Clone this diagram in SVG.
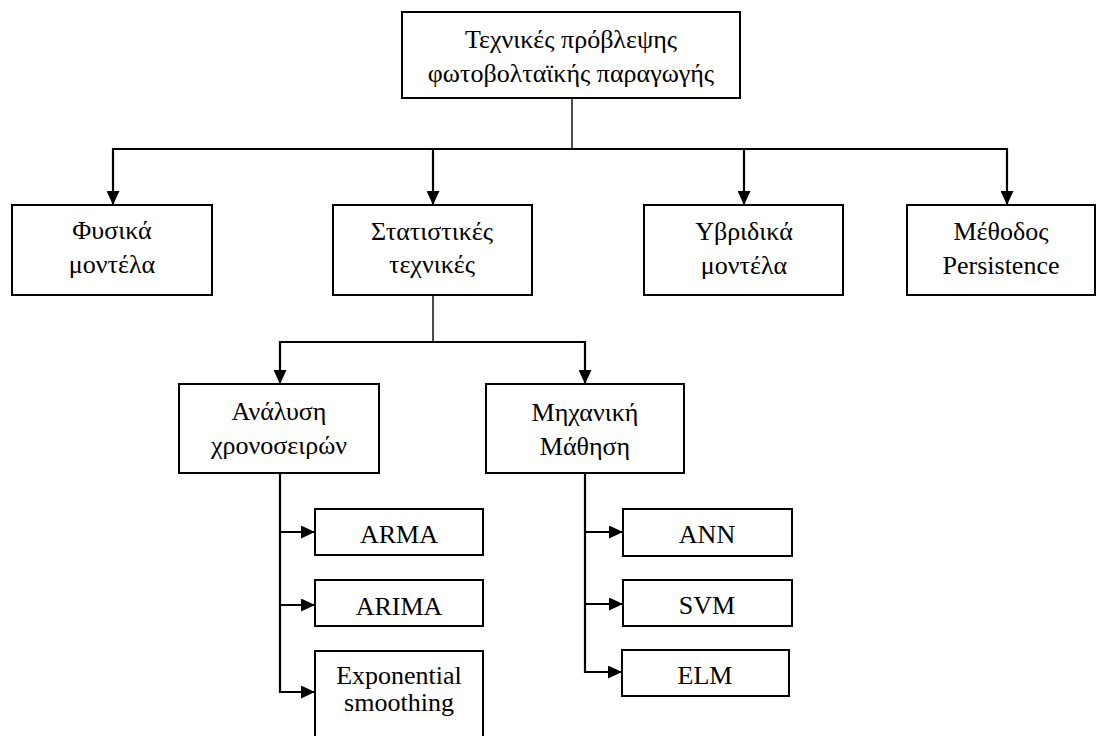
<svg xmlns="http://www.w3.org/2000/svg" width="1097" height="736" viewBox="0 0 1097 736">
  <style>
    .box { fill: #ffffff; stroke: #000000; stroke-width: 2; }
    .lbl { font-family: "Liberation Serif", "Times New Roman", serif; font-size: 26px; fill: #000000; text-anchor: middle; }
    .wire { fill: none; stroke: #000000; stroke-width: 2.2; }
    .stem { fill: none; stroke: #000000; stroke-width: 1.4; }
  </style>
  <defs>
    <marker id="head" viewBox="0 0 14 13" refX="14" refY="6.5" markerWidth="14" markerHeight="13" markerUnits="userSpaceOnUse" orient="auto">
      <path d="M0,0 L14,6.5 L0,13 Z" fill="#000000"/>
    </marker>
  </defs>
  <rect width="1097" height="736" fill="#ffffff"/>

  <g id="connectors">
    <!-- root to first level -->
    <line class="stem" x1="572" y1="98" x2="572" y2="149"/>
    <line class="wire" x1="112" y1="149" x2="1007" y2="149"/>
    <line class="wire" x1="113" y1="148" x2="113" y2="205" marker-end="url(#head)"/>
    <line class="wire" x1="433" y1="148" x2="433" y2="205" marker-end="url(#head)"/>
    <line class="wire" x1="744" y1="148" x2="744" y2="205" marker-end="url(#head)"/>
    <line class="wire" x1="1007" y1="148" x2="1007" y2="205" marker-end="url(#head)"/>
    <!-- statistical techniques to second level -->
    <line class="stem" x1="433" y1="295" x2="433" y2="342"/>
    <line class="wire" x1="279" y1="342" x2="586" y2="342"/>
    <line class="wire" x1="280" y1="341" x2="280" y2="384" marker-end="url(#head)"/>
    <line class="wire" x1="585" y1="341" x2="585" y2="384" marker-end="url(#head)"/>
    <!-- time series branch -->
    <polyline class="wire" points="280,473 280,692 315,692" marker-end="url(#head)"/>
    <line class="wire" x1="280" y1="532" x2="315" y2="532" marker-end="url(#head)"/>
    <line class="wire" x1="280" y1="605" x2="315" y2="605" marker-end="url(#head)"/>
    <!-- machine learning branch -->
    <polyline class="wire" points="585,473 585,672 622,672" marker-end="url(#head)"/>
    <line class="wire" x1="585" y1="532" x2="623" y2="532" marker-end="url(#head)"/>
    <line class="wire" x1="585" y1="604" x2="623" y2="604" marker-end="url(#head)"/>
  </g>

  <g id="root">
    <rect class="box" x="402" y="12" width="338" height="86"/>
    <text class="lbl" x="571" y="48">Τεχνικές πρόβλεψης</text>
    <text class="lbl" x="571" y="82">φωτοβολταϊκής παραγωγής</text>
  </g>

  <g id="physical">
    <rect class="box" x="12" y="205" width="200" height="90"/>
    <text class="lbl" x="112" y="239">Φυσικά</text>
    <text class="lbl" x="112" y="273">μοντέλα</text>
  </g>

  <g id="statistical">
    <rect class="box" x="333" y="205" width="199" height="90"/>
    <text class="lbl" x="432" y="240">Στατιστικές</text>
    <text class="lbl" x="432" y="273">τεχνικές</text>
  </g>

  <g id="hybrid">
    <rect class="box" x="644" y="205" width="199" height="90"/>
    <text class="lbl" x="744" y="240">Υβριδικά</text>
    <text class="lbl" x="744" y="274">μοντέλα</text>
  </g>

  <g id="persistence">
    <rect class="box" x="907" y="205" width="188" height="90"/>
    <text class="lbl" x="1001" y="240">Μέθοδος</text>
    <text class="lbl" x="1001" y="274">Persistence</text>
  </g>

  <g id="timeseries">
    <rect class="box" x="179" y="384" width="200" height="89"/>
    <text class="lbl" x="279" y="420">Ανάλυση</text>
    <text class="lbl" x="279" y="454">χρονοσειρών</text>
  </g>

  <g id="machinelearning">
    <rect class="box" x="486" y="384" width="198" height="89"/>
    <text class="lbl" x="585" y="421">Μηχανική</text>
    <text class="lbl" x="585" y="455">Μάθηση</text>
  </g>

  <g id="arma">
    <rect class="box" x="315" y="509" width="168" height="46"/>
    <text class="lbl" x="399" y="543">ARMA</text>
  </g>

  <g id="arima">
    <rect class="box" x="315" y="580" width="168" height="46"/>
    <text class="lbl" x="399" y="615">ARIMA</text>
  </g>

  <g id="expsmoothing">
    <rect class="box" x="315" y="651" width="168" height="88"/>
    <text class="lbl" x="399" y="684">Exponential</text>
    <text class="lbl" x="399" y="711">smoothing</text>
  </g>

  <g id="ann">
    <rect class="box" x="623" y="509" width="169" height="47"/>
    <text class="lbl" x="707" y="543">ANN</text>
  </g>

  <g id="svm">
    <rect class="box" x="623" y="580" width="169" height="46"/>
    <text class="lbl" x="707" y="614">SVM</text>
  </g>

  <g id="elm">
    <rect class="box" x="622" y="650" width="167" height="46"/>
    <text class="lbl" x="705" y="684">ELM</text>
  </g>
</svg>
